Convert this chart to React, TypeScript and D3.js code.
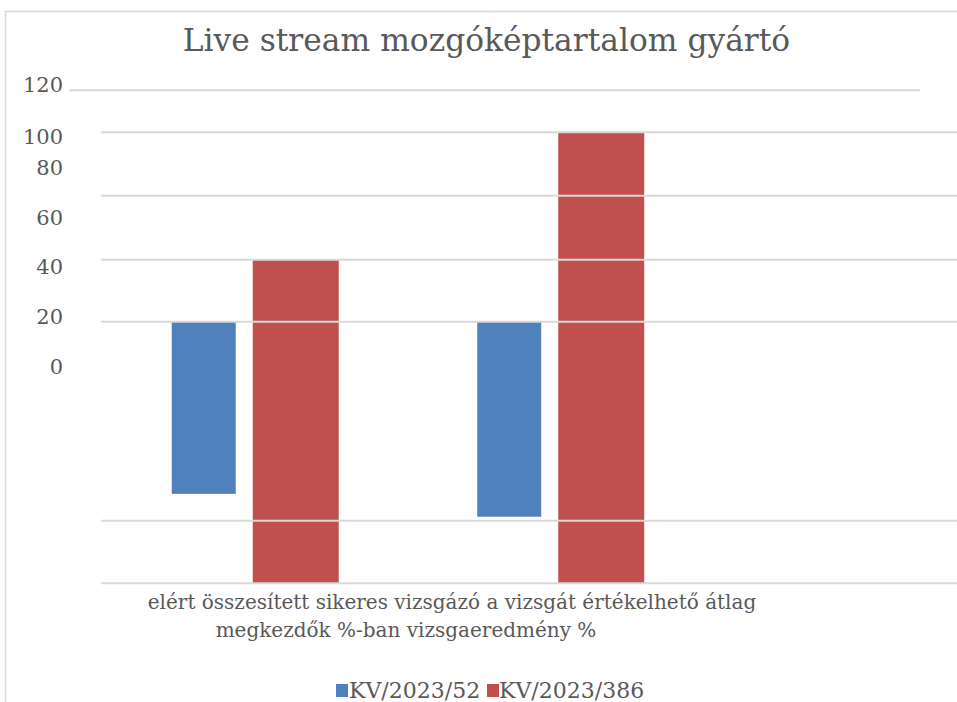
import React from 'react';
import * as d3 from 'd3';

// ---- data ----
const title = 'Live stream mozgóképtartalom gyártó';
const categoryLines = [
  ['elért összesített sikeres vizsgázó', 'megkezdők %-ban'],
  ['a vizsgát értékelhető átlag', 'vizsgaeredmény %'],
];
const categories = categoryLines.map((l) => l.join(' '));
const seriesNames = ['KV/2023/52', 'KV/2023/386'];
const seriesColors = ['#4f81bd', '#c0504d'];
// KV/2023/52 bars float from 40 down to these values
const blueFrom = [40, 40];
const blueTo = [22.7, 20.4];
// KV/2023/386 bars from 0
const redValues = [60, 100];
const gridValues = [0, 20, 40, 60, 80, 100];
const topGridValue = 120;
const tickValues = [0, 20, 40, 60, 80, 100, 120];
const tickLabels = ['0', '20', '40', '60', '80', '100', '120'];

const W = 957;
const H = 702;
const FONT = '"DejaVu Serif", serif';
const TEXT = '#595959';
const GRID = '#d9d9d9';

export default function App() {
  // gridline scale (piecewise, as rendered in the reference)
  const y = d3
    .scaleLinear()
    .domain(tickValues)
    .range([583.3, 520.7, 321.7, 259.7, 195.7, 132.3, 90.3]);
  // tick label placement scale (labels are offset from the grid in the reference)
  const yLab = d3
    .scaleLinear()
    .domain(tickValues)
    .range([367, 317, 267, 218, 168, 137, 85]);

  const x = d3.scaleBand<string>().domain(categories).range([102.75, 713.75]);
  const xs = d3
    .scalePoint<string>()
    .domain(seriesNames)
    .range([0, x.bandwidth()])
    .padding(1.16)
    .align(0.473);
  const barW = [64, 86];

  const gridLeft = 101;

  return (
    <svg
      width={W}
      height={H}
      style={{ position: 'absolute', left: 0, top: 0, background: '#fff' }}
      fontFamily={FONT}
    >
      <rect x={0} y={0} width={W} height={H} fill="#fff" />
      {/* chart border */}
      <path d={`M5.5,${H} V11.5 H${W}`} fill="none" stroke={GRID} strokeWidth={1.5} />

      <text x={486.5} y={51} textAnchor="middle" fontSize={31.3} fill={TEXT}>
        {title}
      </text>

      {/* bars */}
      {categories.map((c, i) => {
        const cx0 = (x(c) as number) + (xs(seriesNames[0]) as number);
        const cx1 = (x(c) as number) + (xs(seriesNames[1]) as number);
        const bTop = Math.min(y(blueFrom[i]), y(blueTo[i]));
        const bBot = Math.max(y(blueFrom[i]), y(blueTo[i]));
        return (
          <g key={c}>
            <rect
              x={cx0 - barW[0] / 2}
              y={bTop}
              width={barW[0]}
              height={bBot - bTop}
              fill={seriesColors[0]}
            />
            <rect
              x={cx1 - barW[1] / 2}
              y={y(redValues[i])}
              width={barW[1]}
              height={y(0) - y(redValues[i])}
              fill={seriesColors[1]}
            />
          </g>
        );
      })}

      {/* gridlines */}
      {gridValues.map((v) => (
        <line key={v} x1={gridLeft} x2={W} y1={y(v)} y2={y(v)} stroke={GRID} strokeWidth={2} />
      ))}
      <line x1={69} x2={920} y1={y(topGridValue)} y2={y(topGridValue)} stroke={GRID} strokeWidth={2} />

      {/* tick labels */}
      {tickValues.map((v, i) => (
        <text
          key={v}
          x={63}
          y={yLab(v)}
          textAnchor="end"
          dominantBaseline="central"
          fontSize={21}
          fill={TEXT}
        >
          {tickLabels[i]}
        </text>
      ))}

      {/* category labels (run together as in the reference) */}
      <text x={452} y={609} textAnchor="middle" fontSize={20} fill={TEXT}>
        {categoryLines[0][0] + '  ' + categoryLines[1][0]}
      </text>
      <text x={406} y={637} textAnchor="middle" fontSize={20} fill={TEXT}>
        {categoryLines[0][1] + ' ' + categoryLines[1][1]}
      </text>

      {/* legend */}
      <g>
        <rect x={336} y={684} width={12} height={13} fill={seriesColors[0]} />
        <text x={349} y={698} fontSize={22} fill={TEXT}>
          {seriesNames[0]}
        </text>
        <rect x={487} y={684} width={12} height={13} fill={seriesColors[1]} />
        <text x={499} y={698} fontSize={22} fill={TEXT}>
          {seriesNames[1]}
        </text>
      </g>
    </svg>
  );
}
